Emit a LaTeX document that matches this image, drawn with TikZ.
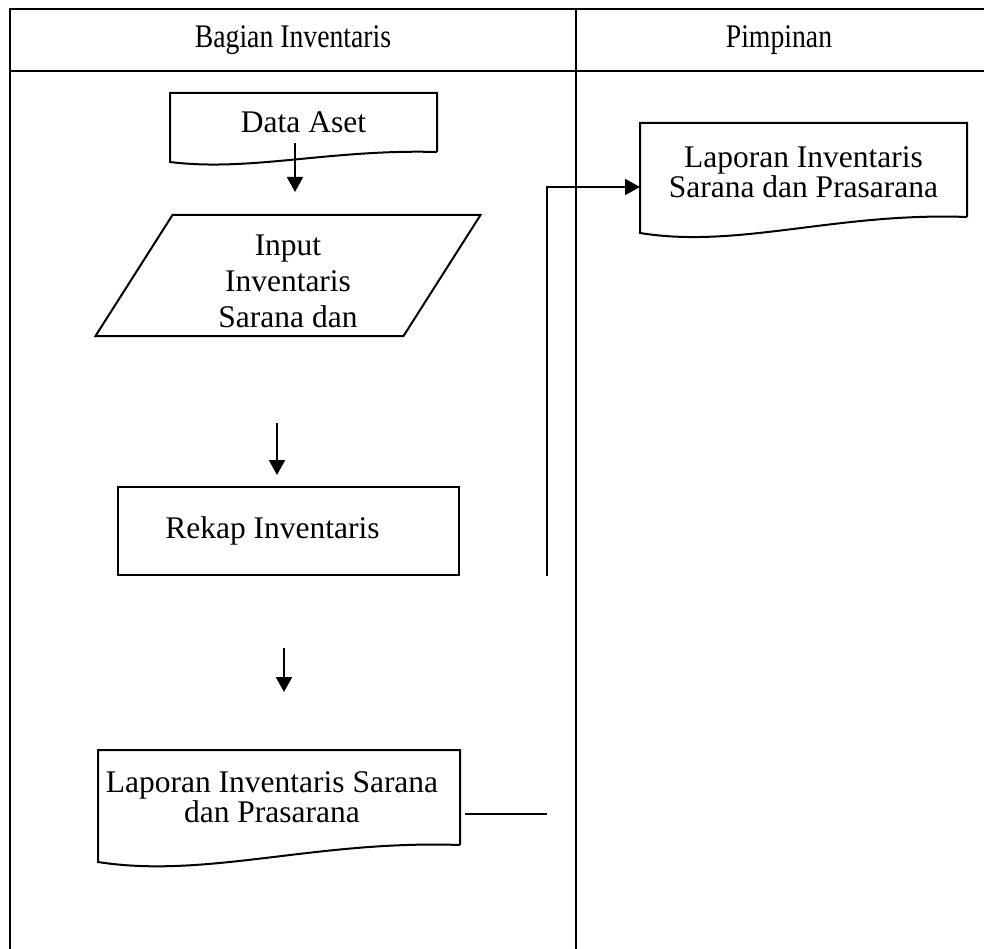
\documentclass[tikz,border=0pt]{standalone}
\usepackage{fontspec}
\setmainfont{Liberation Serif}
\newfontfamily\bodyfont{Liberation Serif}
\newfontfamily\headfont[FakeStretch=0.84]{Liberation Serif}
\usetikzlibrary{arrows.meta,calc}

% wavy-bottom document outline around a named node; #2 = drop of the left end
\newcommand\docoutline[2]{%
  \draw[boxline] (#1.south east) -- (#1.north east) -- (#1.north west)
    -- ($(#1.south west)+(0,#2)$)
    .. controls ($(#1.south west)!0.3!(#1.south east)+(0,2*#2)$)
    and ($(#1.south west)!0.6!(#1.south east)+(0,-0.3*#2)$) .. (#1.south east);}

\tikzset{
  laneline/.style={line width=2.7pt},
  boxline/.style={line width=2pt, line join=miter},
  flow/.style={line width=2pt, -{Triangle[length=15pt,width=16pt]}},
  plain/.style={line width=2pt},
  hdr/.style={font=\headfont\fontsize{33}{36}\selectfont},
  box/.style={draw=none, outer sep=0pt, inner sep=0pt, align=center,
    font=\bodyfont\fontsize{31.5}{30}\selectfont},
}

\begin{document}
\begin{tikzpicture}[x=1pt,y=-1pt]
\useasboundingbox (0,0) rectangle (984,949);

% swimlane frame
\draw[laneline] (984,9) -- (10,9) -- (10,949);
\draw[laneline] (10,71) -- (984,71);
\draw[laneline] (576,9) -- (576,949);
\node[hdr] (laneA) at (293,40) {Bagian Inventaris};
\node[hdr] (laneB) at (779,40) {Pimpinan};

% Bagian Inventaris lane
\node[box, minimum width=267pt, minimum height=59pt] (dataaset) at (303.5,122.5)
      {\raisebox{-2pt}{Data Aset}};
\docoutline{dataaset}{10}

\node[box, minimum width=308pt, minimum height=121pt,
      label={[box, font=\bodyfont\fontsize{31.5}{36}\selectfont, yshift=-6pt]center:Input\\Inventaris\\Sarana dan}]
      (input) at (288,275.5) {};
\draw[boxline] ($(input.north west)+(38.5,0)$) -- ($(input.north east)+(38.5,0)$)
  -- ($(input.south east)+(-38.5,0)$) -- ($(input.south west)+(-38.5,0)$) -- cycle;

\node[box, draw, boxline, minimum width=341pt, minimum height=88pt,
      label={[box, xshift=-16pt]center:Rekap Inventaris}] (rekap) at (288.5,531) {};

\node[box, minimum width=362pt, minimum height=95pt,
      label={[box, xshift=-7pt]center:Laporan Inventaris Sarana\\dan Prasarana}]
      (lapA) at (279,797.5) {};
\docoutline{lapA}{17}

% Pimpinan lane
\node[box, minimum width=327pt, minimum height=94pt,
      label={[box, yshift=-2pt]center:Laporan Inventaris\\Sarana dan Prasarana}]
      (lapB) at (803.5,170) {};
\docoutline{lapB}{16}

% connectors
\coordinate (a1s) at (295,143);  \coordinate (a1e) at (295,192);
\coordinate (a2s) at (277,423);  \coordinate (a2e) at (277,475);
\coordinate (a3s) at (284,648);  \coordinate (a3e) at (284,692);
\draw[flow] (a1s) -- (a1e);
\draw[flow] (a2s) -- (a2e);
\draw[flow] (a3s) -- (a3e);

\coordinate (outS) at (465,814); \coordinate (outE) at (547,814);
\draw[plain] (outS) -- (outE);

\coordinate (upS) at (547,576); \coordinate (turn) at (547,187);
\draw[flow] (upS) -- (turn) -- (lapB.west |- turn);
\end{tikzpicture}
\end{document}
